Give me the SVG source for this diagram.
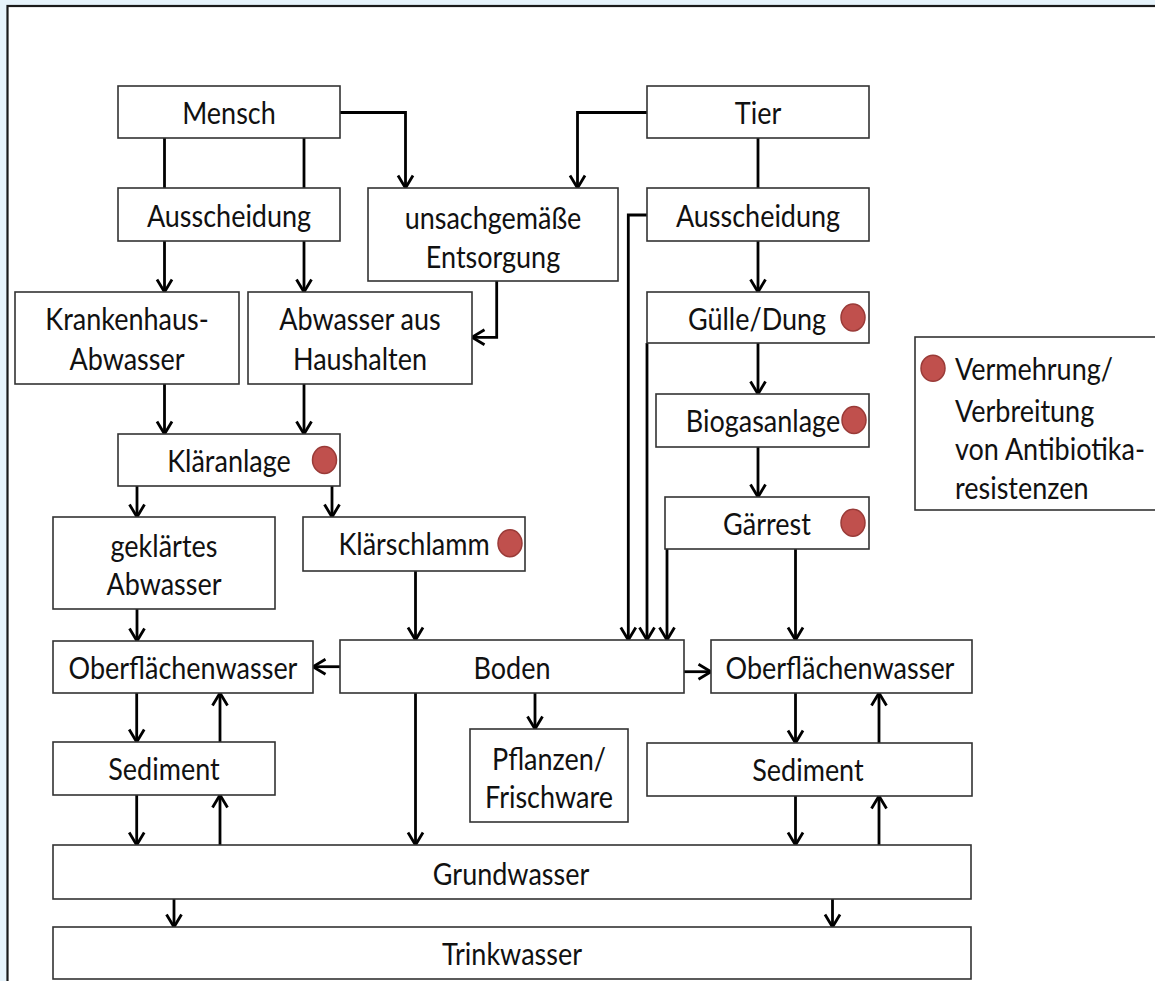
<svg xmlns="http://www.w3.org/2000/svg" width="1155" height="981" viewBox="0 0 1155 981">
<defs>
<style>
.bg{fill:#e6f3fb}
.frame{fill:#ffffff;stroke:#1a1a1a;stroke-width:2.2}
.box{fill:#ffffff;stroke:#333333;stroke-width:1.6}
.t{font-family:Lato,"Open Sans","Liberation Sans",sans-serif;font-size:30px;fill:#111111;text-anchor:middle;dominant-baseline:central;transform-box:fill-box;transform-origin:center;transform:scaleX(0.9)}
.tl{text-anchor:start;transform-origin:left center}
.c{fill:none;stroke:#000000;stroke-width:2.8}
.dot{fill:#c0504d;stroke:#9a3b38;stroke-width:1.5}
</style>
<marker id="ah" markerUnits="userSpaceOnUse" markerWidth="24" markerHeight="24" refX="14" refY="9" orient="auto">
<path d="M1.5,1.5 L14,9 L1.5,16.5" fill="none" stroke="#000000" stroke-width="2.8" stroke-linejoin="miter"/>
</marker>
</defs>
<rect class="bg" x="0" y="0" width="1155" height="981"/>
<rect class="frame" x="7.5" y="6" width="1200" height="1100"/>

<g id="connectors">
<path class="c" d="M164.5,138 V188"/>
<path class="c" d="M304,138 V188"/>
<path class="c" d="M164.5,241 V292" marker-end="url(#ah)"/>
<path class="c" d="M304,241 V292" marker-end="url(#ah)"/>
<path class="c" d="M340,112.5 H405.5 V188" marker-end="url(#ah)"/>
<path class="c" d="M647,112.5 H577.5 V188" marker-end="url(#ah)"/>
<path class="c" d="M758,138 V188"/>
<path class="c" d="M758,241 V292" marker-end="url(#ah)"/>
<path class="c" d="M496.7,281 V337.3 H472" marker-end="url(#ah)"/>
<path class="c" d="M164.5,384 V434" marker-end="url(#ah)"/>
<path class="c" d="M304,384 V434" marker-end="url(#ah)"/>
<path class="c" d="M137,486 V517" marker-end="url(#ah)"/>
<path class="c" d="M332,486 V517" marker-end="url(#ah)"/>
<path class="c" d="M137,609 V641" marker-end="url(#ah)"/>
<path class="c" d="M415.5,571 V640" marker-end="url(#ah)"/>
<path class="c" d="M647,215 H628.3 V640" marker-end="url(#ah)"/>
<path class="c" d="M647,343 V640" marker-end="url(#ah)"/>
<path class="c" d="M667,549 V640" marker-end="url(#ah)"/>
<path class="c" d="M795.5,549 V640" marker-end="url(#ah)"/>
<path class="c" d="M758,343 V394" marker-end="url(#ah)"/>
<path class="c" d="M758,447 V497" marker-end="url(#ah)"/>
<path class="c" d="M340,666.7 H313" marker-end="url(#ah)"/>
<path class="c" d="M684,671.7 H711" marker-end="url(#ah)"/>
<path class="c" d="M535,693 V729" marker-end="url(#ah)"/>
<path class="c" d="M415.5,693 V845" marker-end="url(#ah)"/>
<path class="c" d="M136.7,693 V742" marker-end="url(#ah)"/>
<path class="c" d="M220,742 V693" marker-end="url(#ah)"/>
<path class="c" d="M136.7,795 V845" marker-end="url(#ah)"/>
<path class="c" d="M220,845 V795" marker-end="url(#ah)"/>
<path class="c" d="M795.5,693 V743" marker-end="url(#ah)"/>
<path class="c" d="M879,743 V693" marker-end="url(#ah)"/>
<path class="c" d="M795.5,796 V845" marker-end="url(#ah)"/>
<path class="c" d="M879,845 V796" marker-end="url(#ah)"/>
<path class="c" d="M174,899 V927" marker-end="url(#ah)"/>
<path class="c" d="M832.5,899 V927" marker-end="url(#ah)"/>
</g>

<g id="mensch"><rect class="box" x="118" y="86" width="222" height="52"/><text class="t" x="229" y="112">Mensch</text></g>
<g id="ausscheidung-mensch"><rect class="box" x="118" y="188" width="222" height="53"/><text class="t" x="229" y="215">Ausscheidung</text></g>
<g id="entsorgung"><rect class="box" x="368" y="188" width="250" height="93"/><text class="t" x="493" y="217">unsachgemäße</text><text class="t" x="493" y="256">Entsorgung</text></g>
<g id="tier"><rect class="box" x="647" y="86" width="222" height="52"/><text class="t" x="758" y="112">Tier</text></g>
<g id="ausscheidung-tier"><rect class="box" x="647" y="188" width="222" height="53"/><text class="t" x="758" y="215">Ausscheidung</text></g>
<g id="krankenhaus"><rect class="box" x="15" y="292" width="224" height="92"/><text class="t" x="127" y="318">Krankenhaus-</text><text class="t" x="127" y="358">Abwasser</text></g>
<g id="haushalte"><rect class="box" x="248" y="292" width="224" height="92"/><text class="t" x="360" y="318">Abwasser aus</text><text class="t" x="360" y="358">Haushalten</text></g>
<g id="guelle"><rect class="box" x="647" y="292" width="222" height="51"/><text class="t" x="757" y="318">Gülle/Dung</text><ellipse class="dot" cx="853" cy="317.5" rx="12" ry="13.5"/></g>
<g id="biogas"><rect class="box" x="656" y="394" width="213" height="53"/><text class="t" x="763" y="420">Biogasanlage</text><ellipse class="dot" cx="854" cy="420" rx="12" ry="13.5"/></g>
<g id="gaerrest"><rect class="box" x="665" y="497" width="204" height="52"/><text class="t" x="767" y="523">Gärrest</text><ellipse class="dot" cx="853" cy="522.7" rx="12" ry="13.5"/></g>
<g id="klaeranlage"><rect class="box" x="118" y="434" width="222" height="52"/><text class="t" x="229" y="460">Kläranlage</text><ellipse class="dot" cx="324.5" cy="460" rx="12" ry="13.5"/></g>
<g id="geklaertes-abwasser"><rect class="box" x="53" y="517" width="222" height="92"/><text class="t" x="164" y="545">geklärtes</text><text class="t" x="164" y="583">Abwasser</text></g>
<g id="klaerschlamm"><rect class="box" x="303" y="517" width="222" height="54"/><text class="t" x="414" y="543">Klärschlamm</text><ellipse class="dot" cx="510" cy="543.3" rx="12" ry="13.5"/></g>
<g id="oberflaechenwasser-links"><rect class="box" x="53" y="641" width="260" height="52"/><text class="t" x="183" y="667">Oberflächenwasser</text></g>
<g id="boden"><rect class="box" x="340" y="640" width="344" height="53"/><text class="t" x="512" y="667">Boden</text></g>
<g id="oberflaechenwasser-rechts"><rect class="box" x="711" y="640" width="261" height="53"/><text class="t" x="840" y="667">Oberflächenwasser</text></g>
<g id="pflanzen"><rect class="box" x="470" y="729" width="158" height="93"/><text class="t" x="549" y="758">Pflanzen/</text><text class="t" x="549" y="796">Frischware</text></g>
<g id="sediment-links"><rect class="box" x="53" y="742" width="222" height="53"/><text class="t" x="164" y="768">Sediment</text></g>
<g id="sediment-rechts"><rect class="box" x="647" y="743" width="325" height="53"/><text class="t" x="808" y="769">Sediment</text></g>
<g id="grundwasser"><rect class="box" x="53" y="845" width="918" height="54"/><text class="t" x="511" y="873">Grundwasser</text></g>
<g id="trinkwasser"><rect class="box" x="53" y="927" width="918" height="52"/><text class="t" x="512" y="953">Trinkwasser</text></g>
<g id="legende"><rect class="box" x="915" y="337" width="260" height="173"/><ellipse class="dot" cx="933" cy="368.3" rx="12" ry="13"/><text class="t tl" x="955" y="368">Vermehrung/</text><text class="t tl" x="955" y="410">Verbreitung</text><text class="t tl" x="955" y="448">von Antibiotika-</text><text class="t tl" x="955" y="487">resistenzen</text></g>
</svg>
